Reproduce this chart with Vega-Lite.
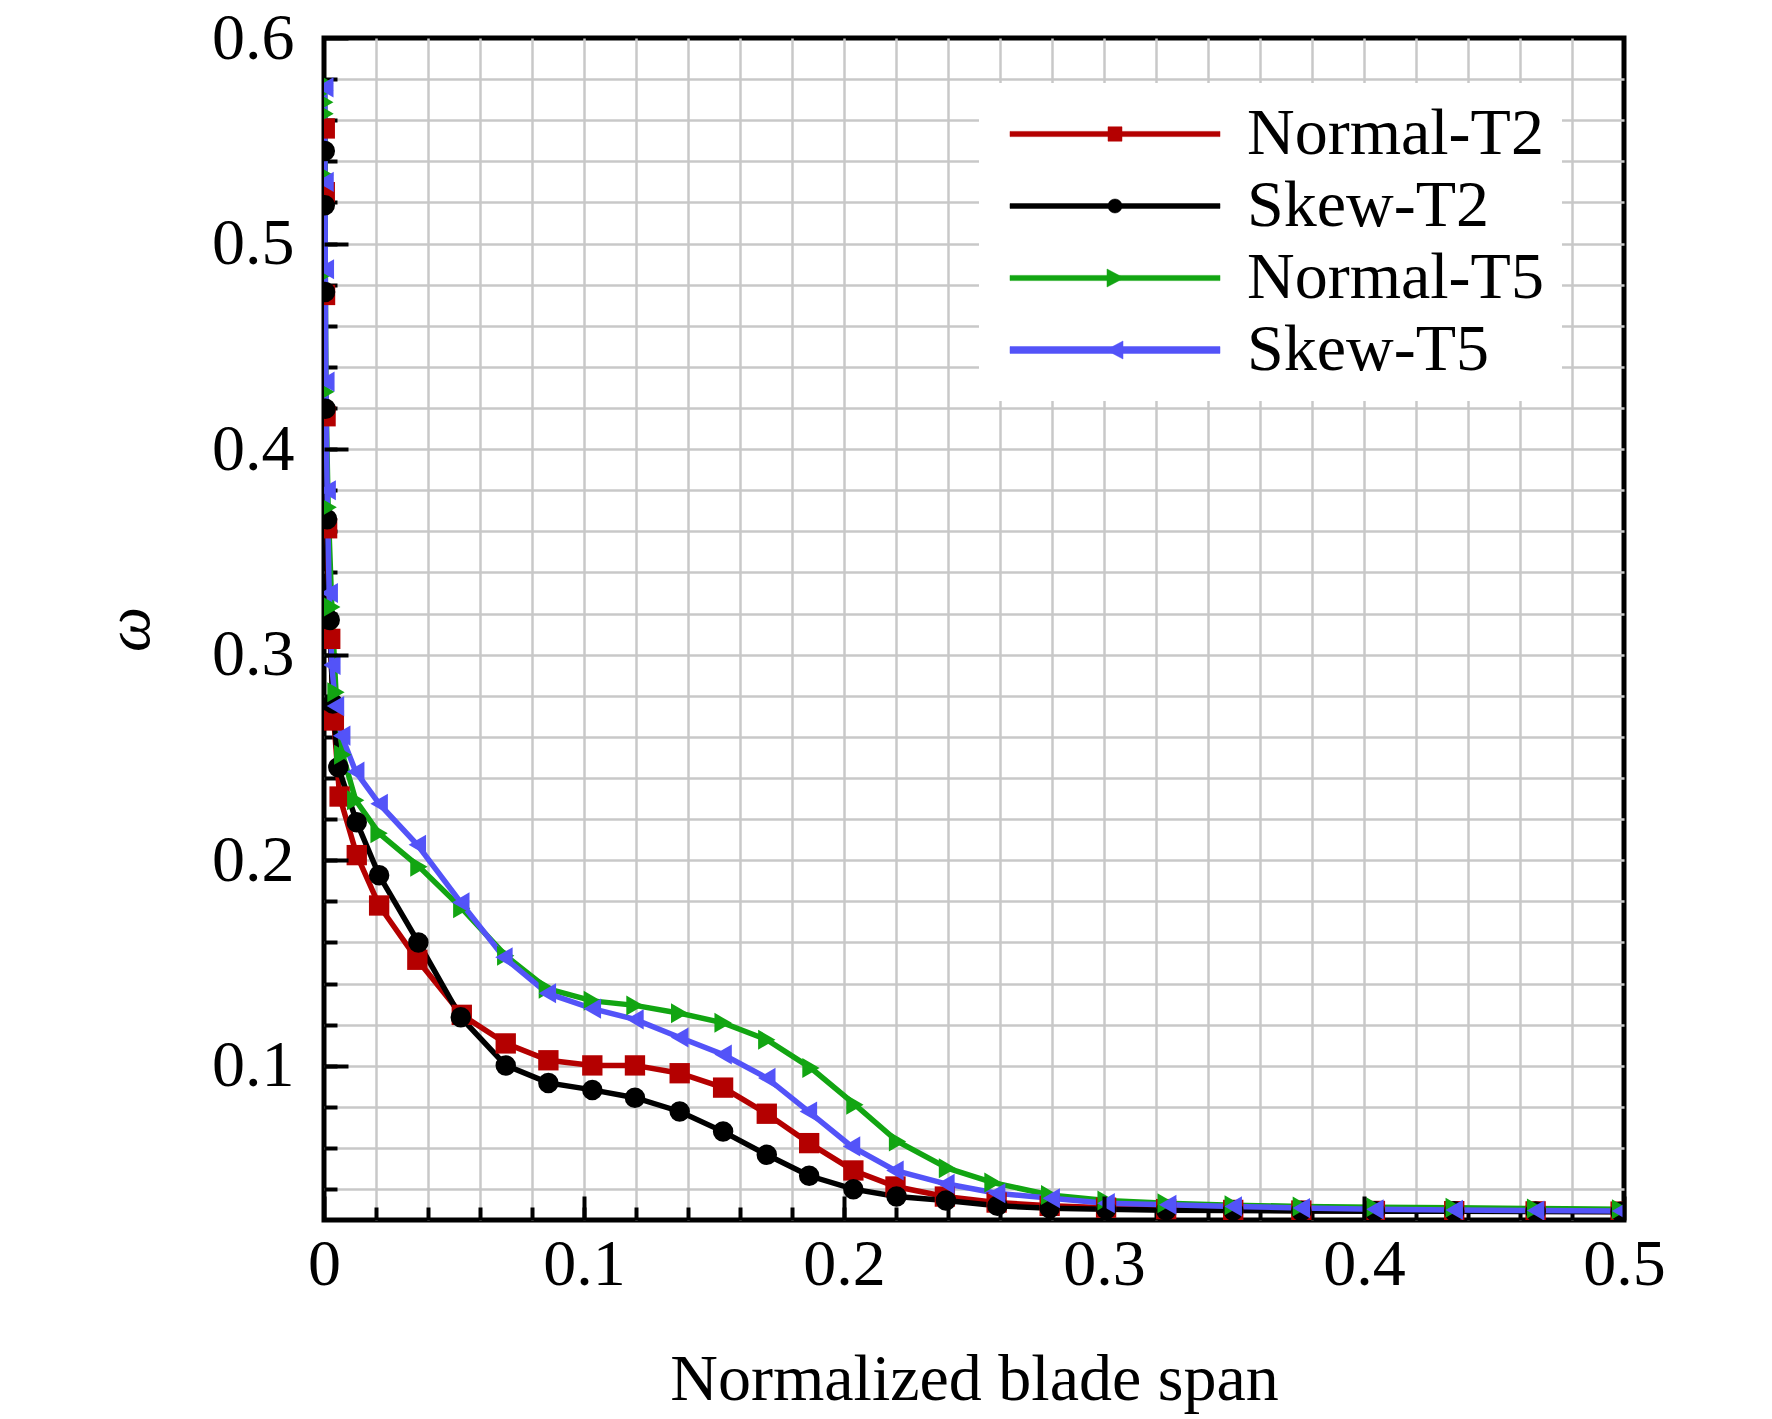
{
  "$schema": "https://vega.github.io/schema/vega-lite/v6.json",
  "description": "Loss coefficient along normalized blade span, four cases",
  "width": 1300,
  "height": 1182,
  "autosize": "none",
  "padding": {"left": 324, "top": 38, "right": 148, "bottom": 199},
  "background": "white",
  "config": {
    "view": {"stroke": "black", "strokeWidth": 5},
    "font": "Liberation Serif"
  },
  "data": {
    "values": [
      {"s": "Normal-T2", "x": 0.0003, "y": 0.556},
      {"s": "Normal-T2", "x": 0.0003, "y": 0.525},
      {"s": "Normal-T2", "x": 0.0004, "y": 0.475},
      {"s": "Normal-T2", "x": 0.0006, "y": 0.416},
      {"s": "Normal-T2", "x": 0.0012, "y": 0.3615},
      {"s": "Normal-T2", "x": 0.0024, "y": 0.3077},
      {"s": "Normal-T2", "x": 0.0038, "y": 0.268},
      {"s": "Normal-T2", "x": 0.006, "y": 0.231},
      {"s": "Normal-T2", "x": 0.0126, "y": 0.2025},
      {"s": "Normal-T2", "x": 0.0212, "y": 0.178},
      {"s": "Normal-T2", "x": 0.0359, "y": 0.1516},
      {"s": "Normal-T2", "x": 0.053, "y": 0.1248},
      {"s": "Normal-T2", "x": 0.0699, "y": 0.1109},
      {"s": "Normal-T2", "x": 0.0863, "y": 0.1027},
      {"s": "Normal-T2", "x": 0.1032, "y": 0.1002},
      {"s": "Normal-T2", "x": 0.1196, "y": 0.1002},
      {"s": "Normal-T2", "x": 0.1368, "y": 0.0964},
      {"s": "Normal-T2", "x": 0.1535, "y": 0.0894},
      {"s": "Normal-T2", "x": 0.1703, "y": 0.0767},
      {"s": "Normal-T2", "x": 0.1866, "y": 0.0624},
      {"s": "Normal-T2", "x": 0.2036, "y": 0.0491},
      {"s": "Normal-T2", "x": 0.2198, "y": 0.0413},
      {"s": "Normal-T2", "x": 0.2388, "y": 0.0364},
      {"s": "Normal-T2", "x": 0.2587, "y": 0.0335},
      {"s": "Normal-T2", "x": 0.2791, "y": 0.0319},
      {"s": "Normal-T2", "x": 0.3008, "y": 0.031},
      {"s": "Normal-T2", "x": 0.3239, "y": 0.0303},
      {"s": "Normal-T2", "x": 0.3497, "y": 0.0299},
      {"s": "Normal-T2", "x": 0.3759, "y": 0.0296},
      {"s": "Normal-T2", "x": 0.4042, "y": 0.0294},
      {"s": "Normal-T2", "x": 0.4347, "y": 0.0293},
      {"s": "Normal-T2", "x": 0.466, "y": 0.0292},
      {"s": "Normal-T2", "x": 0.4987, "y": 0.0291},

      {"s": "Skew-T2", "x": 0.0003, "y": 0.545},
      {"s": "Skew-T2", "x": 0.0003, "y": 0.5186},
      {"s": "Skew-T2", "x": 0.0004, "y": 0.4764},
      {"s": "Skew-T2", "x": 0.0006, "y": 0.4197},
      {"s": "Skew-T2", "x": 0.0012, "y": 0.3659},
      {"s": "Skew-T2", "x": 0.0022, "y": 0.3169},
      {"s": "Skew-T2", "x": 0.0034, "y": 0.2762},
      {"s": "Skew-T2", "x": 0.0055, "y": 0.2452},
      {"s": "Skew-T2", "x": 0.0126, "y": 0.2185},
      {"s": "Skew-T2", "x": 0.0212, "y": 0.1927},
      {"s": "Skew-T2", "x": 0.0363, "y": 0.16},
      {"s": "Skew-T2", "x": 0.0526, "y": 0.1236},
      {"s": "Skew-T2", "x": 0.0699, "y": 0.1002},
      {"s": "Skew-T2", "x": 0.0863, "y": 0.0917},
      {"s": "Skew-T2", "x": 0.1032, "y": 0.0883},
      {"s": "Skew-T2", "x": 0.1196, "y": 0.0845},
      {"s": "Skew-T2", "x": 0.1368, "y": 0.0778},
      {"s": "Skew-T2", "x": 0.1535, "y": 0.068},
      {"s": "Skew-T2", "x": 0.1703, "y": 0.0567},
      {"s": "Skew-T2", "x": 0.1866, "y": 0.0465},
      {"s": "Skew-T2", "x": 0.2036, "y": 0.04},
      {"s": "Skew-T2", "x": 0.2202, "y": 0.0364},
      {"s": "Skew-T2", "x": 0.2392, "y": 0.0345},
      {"s": "Skew-T2", "x": 0.259, "y": 0.0319},
      {"s": "Skew-T2", "x": 0.2791, "y": 0.0307},
      {"s": "Skew-T2", "x": 0.3008, "y": 0.0302},
      {"s": "Skew-T2", "x": 0.3239, "y": 0.0298},
      {"s": "Skew-T2", "x": 0.3497, "y": 0.0296},
      {"s": "Skew-T2", "x": 0.3759, "y": 0.0294},
      {"s": "Skew-T2", "x": 0.4042, "y": 0.0293},
      {"s": "Skew-T2", "x": 0.4347, "y": 0.0292},
      {"s": "Skew-T2", "x": 0.466, "y": 0.0291},
      {"s": "Skew-T2", "x": 0.4987, "y": 0.029},

      {"s": "Normal-T5", "x": 0.0003, "y": 0.578},
      {"s": "Normal-T5", "x": 0.0003, "y": 0.5746},
      {"s": "Normal-T5", "x": 0.0003, "y": 0.5688},
      {"s": "Normal-T5", "x": 0.0004, "y": 0.5632},
      {"s": "Normal-T5", "x": 0.0004, "y": 0.5333},
      {"s": "Normal-T5", "x": 0.0005, "y": 0.4853},
      {"s": "Normal-T5", "x": 0.0007, "y": 0.4279},
      {"s": "Normal-T5", "x": 0.0016, "y": 0.3717},
      {"s": "Normal-T5", "x": 0.003, "y": 0.3232},
      {"s": "Normal-T5", "x": 0.0046, "y": 0.2817},
      {"s": "Normal-T5", "x": 0.0072, "y": 0.2513},
      {"s": "Normal-T5", "x": 0.0122, "y": 0.2292},
      {"s": "Normal-T5", "x": 0.0212, "y": 0.2131},
      {"s": "Normal-T5", "x": 0.0365, "y": 0.1969},
      {"s": "Normal-T5", "x": 0.053, "y": 0.1766},
      {"s": "Normal-T5", "x": 0.0699, "y": 0.1536},
      {"s": "Normal-T5", "x": 0.0859, "y": 0.1375},
      {"s": "Normal-T5", "x": 0.1032, "y": 0.1316},
      {"s": "Normal-T5", "x": 0.1196, "y": 0.1294},
      {"s": "Normal-T5", "x": 0.1368, "y": 0.1256},
      {"s": "Normal-T5", "x": 0.1535, "y": 0.1209},
      {"s": "Normal-T5", "x": 0.1703, "y": 0.1127},
      {"s": "Normal-T5", "x": 0.1873, "y": 0.0989},
      {"s": "Normal-T5", "x": 0.2042, "y": 0.0811},
      {"s": "Normal-T5", "x": 0.2206, "y": 0.0632},
      {"s": "Normal-T5", "x": 0.2398, "y": 0.0502},
      {"s": "Normal-T5", "x": 0.2573, "y": 0.0432},
      {"s": "Normal-T5", "x": 0.2791, "y": 0.0372},
      {"s": "Normal-T5", "x": 0.3008, "y": 0.0345},
      {"s": "Normal-T5", "x": 0.3239, "y": 0.0332},
      {"s": "Normal-T5", "x": 0.3497, "y": 0.0322},
      {"s": "Normal-T5", "x": 0.3759, "y": 0.0316},
      {"s": "Normal-T5", "x": 0.4042, "y": 0.0312},
      {"s": "Normal-T5", "x": 0.4347, "y": 0.031},
      {"s": "Normal-T5", "x": 0.466, "y": 0.0306},
      {"s": "Normal-T5", "x": 0.4987, "y": 0.0302},

      {"s": "Skew-T5", "x": 0.0003, "y": 0.576},
      {"s": "Skew-T5", "x": 0.0004, "y": 0.53},
      {"s": "Skew-T5", "x": 0.0005, "y": 0.4875},
      {"s": "Skew-T5", "x": 0.0007, "y": 0.4328},
      {"s": "Skew-T5", "x": 0.0012, "y": 0.38},
      {"s": "Skew-T5", "x": 0.002, "y": 0.33},
      {"s": "Skew-T5", "x": 0.003, "y": 0.295},
      {"s": "Skew-T5", "x": 0.0044, "y": 0.275},
      {"s": "Skew-T5", "x": 0.0068, "y": 0.2606},
      {"s": "Skew-T5", "x": 0.0122, "y": 0.2431},
      {"s": "Skew-T5", "x": 0.0212, "y": 0.2275},
      {"s": "Skew-T5", "x": 0.0359, "y": 0.2075},
      {"s": "Skew-T5", "x": 0.0526, "y": 0.1795},
      {"s": "Skew-T5", "x": 0.0692, "y": 0.1528},
      {"s": "Skew-T5", "x": 0.0859, "y": 0.1353},
      {"s": "Skew-T5", "x": 0.1032, "y": 0.1278},
      {"s": "Skew-T5", "x": 0.1196, "y": 0.1226},
      {"s": "Skew-T5", "x": 0.1368, "y": 0.1138},
      {"s": "Skew-T5", "x": 0.1535, "y": 0.1055},
      {"s": "Skew-T5", "x": 0.1703, "y": 0.0941},
      {"s": "Skew-T5", "x": 0.1863, "y": 0.0778},
      {"s": "Skew-T5", "x": 0.2029, "y": 0.0608},
      {"s": "Skew-T5", "x": 0.2196, "y": 0.0491},
      {"s": "Skew-T5", "x": 0.2392, "y": 0.0426},
      {"s": "Skew-T5", "x": 0.2587, "y": 0.038},
      {"s": "Skew-T5", "x": 0.2797, "y": 0.0356},
      {"s": "Skew-T5", "x": 0.3008, "y": 0.0332},
      {"s": "Skew-T5", "x": 0.3245, "y": 0.0324},
      {"s": "Skew-T5", "x": 0.3497, "y": 0.0316},
      {"s": "Skew-T5", "x": 0.3759, "y": 0.0308},
      {"s": "Skew-T5", "x": 0.4042, "y": 0.0302},
      {"s": "Skew-T5", "x": 0.4347, "y": 0.0299},
      {"s": "Skew-T5", "x": 0.466, "y": 0.0296},
      {"s": "Skew-T5", "x": 0.4987, "y": 0.0294}
    ]
  },
  "layer": [
    {
      "mark": {"type": "line", "clip": true, "strokeWidth": 5.5},
      "encoding": {
        "x": {
          "field": "x",
          "type": "quantitative",
          "scale": {"domain": [0, 0.5], "nice": false, "zero": false},
          "axis": {
            "orient": "bottom",
            "values": [0.02, 0.04, 0.06, 0.08, 0.1, 0.12, 0.14, 0.16, 0.18, 0.2, 0.22, 0.24, 0.26, 0.28, 0.3, 0.32, 0.34, 0.36, 0.38, 0.4, 0.42, 0.44, 0.46, 0.48],
            "labels": false,
            "title": null,
            "domain": false,
            "grid": true,
            "gridColor": "#c8c8c8",
            "gridWidth": 2.5,
            "gridOpacity": 1,
            "ticks": true,
            "tickSize": -13,
            "tickWidth": 4,
            "tickColor": "black"
          }
        },
        "y": {
          "field": "y",
          "type": "quantitative",
          "scale": {"domain": [0.025, 0.6], "nice": false, "zero": false},
          "axis": {
            "orient": "left",
            "values": [0.04, 0.06, 0.08, 0.1, 0.12, 0.14, 0.16, 0.18, 0.2, 0.22, 0.24, 0.26, 0.28, 0.3, 0.32, 0.34, 0.36, 0.38, 0.4, 0.42, 0.44, 0.46, 0.48, 0.5, 0.52, 0.54, 0.56, 0.58],
            "labels": false,
            "title": null,
            "domain": false,
            "grid": true,
            "gridColor": "#c8c8c8",
            "gridWidth": 2.5,
            "gridOpacity": 1,
            "ticks": true,
            "tickSize": -13,
            "tickWidth": 4,
            "tickColor": "black"
          }
        },
        "color": {
          "field": "s",
          "type": "nominal",
          "scale": {
            "domain": ["Normal-T2", "Skew-T2", "Normal-T5", "Skew-T5"],
            "range": ["#b40000", "#000000", "#12a512", "#5353f8"]
          },
          "legend": {
            "title": null,
            "orient": "none",
            "legendX": 655,
            "legendY": 45,
            "fillColor": "white",
            "strokeColor": null,
            "padding": 18,
            "symbolSize": 1600,
            "symbolStrokeWidth": 0.5,
            "symbolOpacity": 1,
            "labelOffset": 184,
            "rowPadding": 6,
            "labelFont": "Liberation Serif",
            "labelFontSize": 66,
            "labelColor": "black",
            "labelLimit": 0,
            "encode": {
              "symbols": {
                "update": {
                  "shape": {"signal": "datum.value === 'Normal-T2' ? 'M-1,-0.13H9.5V0.13H-1Z M3.9,-0.36H4.6V0.36H3.9Z' : datum.value === 'Skew-T2' ? 'M-1,-0.12H9.5V0.12H-1Z M4.6,0A0.35,0.35 0 1,1 3.9,0A0.35,0.35 0 1,1 4.6,0Z' : datum.value === 'Normal-T5' ? 'M-1,-0.13H9.5V0.13H-1Z M3.85,-0.45L4.7,0L3.85,0.45Z' : 'M-1,-0.17H9.5V0.17H-1Z M4.65,0.45L3.8,0L4.65,-0.45Z'"}
                }
              }
            }
          }
        }
      }
    },
    {
      "mark": {"type": "point", "filled": true, "opacity": 1, "clip": true},
      "encoding": {
        "x": {
          "field": "x",
          "type": "quantitative",
          "axis": {
            "orient": "bottom",
            "values": [0, 0.1, 0.2, 0.3, 0.4, 0.5],
            "format": "~g",
            "title": "Normalized blade span",
            "titleFont": "Liberation Serif",
            "titleFontSize": 66,
            "titleFontWeight": "normal",
            "titleColor": "black",
            "titlePadding": 50,
            "labelFont": "Liberation Serif",
            "labelFontSize": 66,
            "labelColor": "black",
            "labelPadding": 36,
            "labelFlush": false,
            "labelOverlap": false,
            "domain": false,
            "grid": false,
            "ticks": true,
            "tickSize": -24,
            "tickWidth": 4,
            "tickColor": "black",
            "zindex": 1
          }
        },
        "y": {
          "field": "y",
          "type": "quantitative",
          "axis": {
            "orient": "left",
            "values": [0.1, 0.2, 0.3, 0.4, 0.5, 0.6],
            "format": "~g",
            "title": "ω",
            "titleFont": "Liberation Serif",
            "titleFontSize": 64,
            "titleFontStyle": "italic",
            "titleFontWeight": "normal",
            "titleColor": "black",
            "titlePadding": 50,
            "labelFont": "Liberation Serif",
            "labelFontSize": 66,
            "labelColor": "black",
            "labelPadding": 54,
            "labelFlush": false,
            "labelOverlap": false,
            "domain": false,
            "grid": false,
            "ticks": true,
            "tickSize": -24,
            "tickWidth": 4,
            "tickColor": "black",
            "zindex": 1
          }
        },
        "color": {"field": "s", "type": "nominal"},
        "shape": {
          "field": "s",
          "type": "nominal",
          "scale": {
            "domain": ["Skew-T5", "Normal-T2", "Skew-T2", "Normal-T5"],
            "range": ["triangle-left", "square", "circle", "triangle-right"]
          },
          "legend": null
        },
        "size": {
          "field": "s",
          "type": "ordinal",
          "scale": {
            "domain": ["Normal-T5", "Skew-T5", "Normal-T2", "Skew-T2"],
            "range": [400, 420, 300, 220]
          },
          "legend": null
        }
      }
    }
  ],
  "resolve": {"axis": {"x": "independent", "y": "independent"}}
}
